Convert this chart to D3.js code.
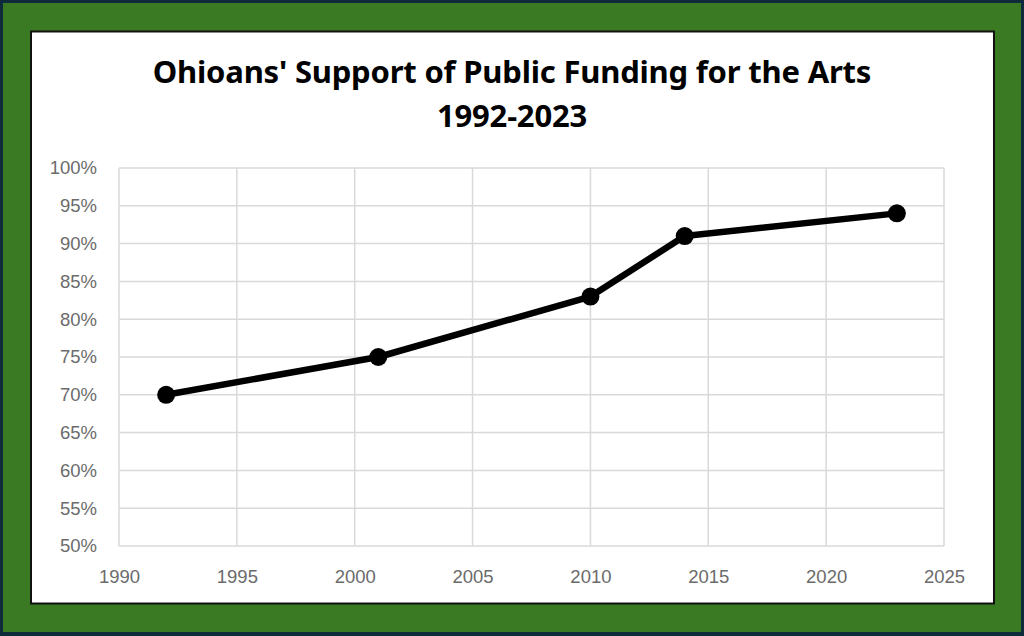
<!DOCTYPE html>
<html>
<head>
<meta charset="utf-8">
<script src="https://cdn.jsdelivr.net/npm/d3@7"></script>
<style>
  body { margin: 0; background: #0f2a3a; }
  svg { display: block; }
</style>
</head>
<body>
<script>
// chart data
let years = [1992, 2001, 2010, 2014, 2023]
let support = [0.70, 0.75, 0.83, 0.91, 0.94]
let xTicks = [1990, 1995, 2000, 2005, 2010, 2015, 2020, 2025]
let yTicks = [0.50, 0.55, 0.60, 0.65, 0.70, 0.75, 0.80, 0.85, 0.90, 0.95, 1.00]
let titleLines = ["Ohioans' Support of Public Funding for the Arts", "1992-2023"]

let W = 1024, H = 636
let plot = {left: 119, right: 944, top: 168, bottom: 546}

let svg = d3.select("body").append("svg").attr("width", W).attr("height", H)

// frame: navy edge, green band, black-bordered white card
svg.append("rect").attr("x", 0).attr("y", 0).attr("width", W).attr("height", H).attr("fill", "#0f2a3a")
svg.append("rect").attr("x", 3).attr("y", 3).attr("width", W - 6).attr("height", H - 7).attr("fill", "#3a7a23")
svg.append("rect").attr("x", 31).attr("y", 31.5).attr("width", 963).attr("height", 572)
   .attr("fill", "#fff").attr("stroke", "#111").attr("stroke-width", 2)

let x = d3.scaleLinear().domain([1990, 2025]).range([plot.left, plot.right])
let y = d3.scaleLinear().domain([0.5, 1]).range([plot.bottom, plot.top])

// gridlines
let grid = svg.append("g").attr("stroke", "#d9d9d9").attr("stroke-width", 1.5)
grid.selectAll("line.h").data(yTicks).enter().append("line")
    .attr("x1", plot.left).attr("x2", plot.right)
    .attr("y1", d => y(d)).attr("y2", d => y(d))
grid.selectAll("line.v").data(xTicks).enter().append("line")
    .attr("y1", plot.top).attr("y2", plot.bottom)
    .attr("x1", d => x(d)).attr("x2", d => x(d))

// axes (labels only)
let yAxis = svg.append("g").attr("transform", "translate(" + plot.left + ",0)")
    .call(d3.axisLeft(y).tickValues(yTicks).tickFormat(d3.format(".0%")).tickSize(0).tickPadding(22))
let xAxis = svg.append("g").attr("transform", "translate(0," + plot.bottom + ")")
    .call(d3.axisBottom(x).tickValues(xTicks).tickFormat(d3.format("d")).tickSize(0).tickPadding(24))
svg.selectAll(".domain").remove()
svg.selectAll(".tick text").attr("fill", "#6b6b6b")
   .style("font-family", "'Liberation Sans', Arial, sans-serif").style("font-size", "18.5px")

// line + markers
let pts = years.map((d, i) => [d, support[i]])
let line = d3.line().x(d => x(d[0])).y(d => y(d[1]))
svg.append("path").datum(pts).attr("d", line)
   .attr("fill", "none").attr("stroke", "#000").attr("stroke-width", 6.5).attr("stroke-linejoin", "round")
svg.selectAll("circle.pt").data(pts).enter().append("circle")
   .attr("class", "pt").attr("cx", d => x(d[0])).attr("cy", d => y(d[1])).attr("r", 9).attr("fill", "#000")

// title
svg.selectAll("text.title").data(titleLines).enter().append("text")
   .attr("class", "title").attr("x", 512).attr("y", (d, i) => 83 + i * 44)
   .attr("text-anchor", "middle").attr("fill", "#000")
   .style("font-family", "'Noto Sans', 'Open Sans', sans-serif").style("font-weight", "bold")
   .style("font-size", "31px").style("letter-spacing", "-0.2px")
   .text(d => d)
</script>
</body>
</html>
